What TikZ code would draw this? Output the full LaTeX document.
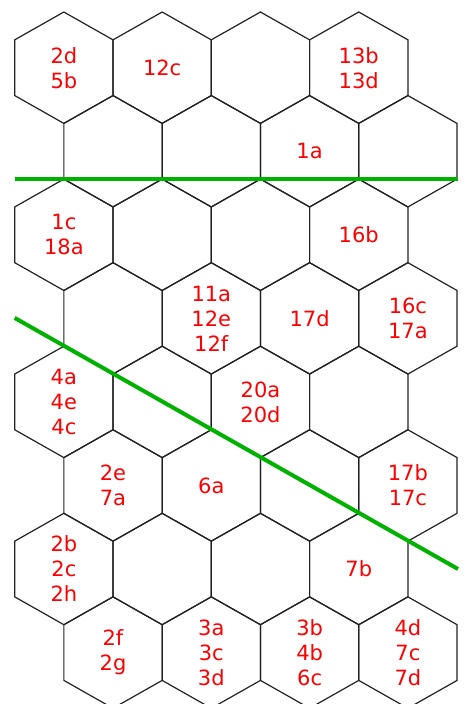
\documentclass[tikz,border=0pt]{standalone}
\usepackage{fontspec}
\newfontfamily\lblfont{DejaVu Sans}
\usepackage{tikz}
\definecolor{routegreen}{RGB}{0,178,0}
\definecolor{hexgray}{RGB}{34,34,34}
\newcommand{\hsetup}[5]{%
  \edef\hexxo{#1}\edef\hexyo{#2}%
  \edef\hexw{#3}\edef\hexr{#4}\edef\hexdy{#5}}
\newcommand{\hexgrid}{%
  \foreach \r in {1,...,8}{\foreach \c in {1,...,4}{%
    \pgfmathsetmacro{\hx}{\hexxo+(\c-1)*2*\hexw+(1-mod(\r,2))*\hexw}
    \pgfmathsetmacro{\hy}{\hexyo+(\r-1)*\hexdy}
    \draw[hexline] (\hx,{\hy-\hexr}) -- ++(\hexw,{\hexr/2}) -- ++(0,\hexr)
      -- ++(-\hexw,{\hexr/2}) -- ++(-\hexw,{-\hexr/2}) -- ++(0,-\hexr) -- cycle;}}}
\newcommand{\hcell}[3]{%
  \pgfmathsetmacro{\hx}{\hexxo+(#1-1)*2*\hexw+(1-mod(#2,2))*\hexw}
  \pgfmathsetmacro{\hy}{\hexyo+(#2-1)*\hexdy}
  \node[lbl] (c#1-#2) at (\hx,\hy) {#3};}

\begin{document}
\begin{tikzpicture}[x=1pt,y=-1pt,
  hexline/.style={draw=hexgray,line width=1.2pt,line join=miter},
  route/.style={draw=routegreen,line width=4pt},
  lbl/.style={text=red,font=\lblfont\fontsize{21}{25}\selectfont,align=center,inner sep=0pt}]
  \useasboundingbox (0,0) rectangle (464,704);
  \clip (0,0) rectangle (464,704);
  \hsetup{63.85}{67.7}{49.15}{55.7}{83.55}
  \hexgrid
  % green routes
  \coordinate (r1a) at (14.7,179.1);
  \coordinate (r1b) at (458,179.1);
  \coordinate (r2a) at (14.7,317.9);
  \coordinate (r2b) at (458,569.0);
  \draw[route] (r1a) -- (r1b);
  \draw[route] (r2a) -- (r2b);
  % labels
  \hcell{1}{1}{2d\\5b} \hcell{2}{1}{12c} \hcell{4}{1}{13b\\13d}
  \hcell{3}{2}{1a}
  \hcell{1}{3}{1c\\18a} \hcell{4}{3}{16b}
  \hcell{2}{4}{11a\\12e\\12f} \hcell{3}{4}{17d} \hcell{4}{4}{16c\\17a}
  \hcell{1}{5}{4a\\4e\\4c} \hcell{3}{5}{20a\\20d}
  \hcell{1}{6}{2e\\7a} \hcell{2}{6}{6a} \hcell{4}{6}{17b\\17c}
  \hcell{1}{7}{2b\\2c\\2h} \hcell{4}{7}{7b}
  \hcell{1}{8}{2f\\2g} \hcell{2}{8}{3a\\3c\\3d} \hcell{3}{8}{3b\\4b\\6c} \hcell{4}{8}{4d\\7c\\7d}
\end{tikzpicture}
\end{document}
